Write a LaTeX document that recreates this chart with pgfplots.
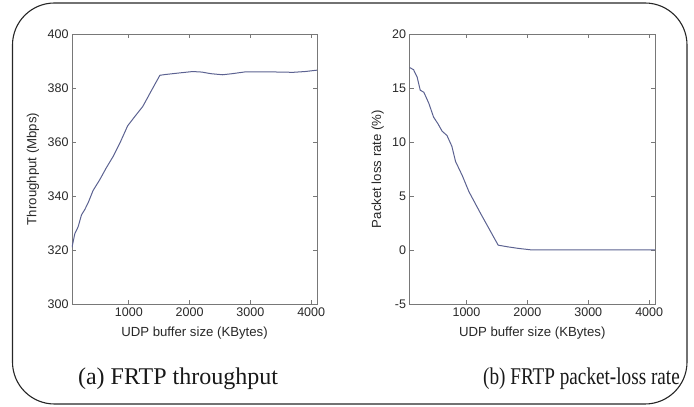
\documentclass[border=0pt]{standalone}
\usepackage{pgfplots}
\pgfplotsset{compat=1.18}
\usepackage{fontspec}
\setmainfont{Liberation Serif}
\newfontfamily\axfont{Liberation Sans}
\definecolor{curve}{RGB}{92,98,145}
\definecolor{axgray}{RGB}{120,120,120}
\definecolor{txt}{RGB}{40,40,40}

\pgfplotstableread{
x y
64 321
110 326
165 328.6
220 333
275 335
330 337.5
410 342
520 346
630 350.5
740 354.6
850 359.5
980 366
1100 369.5
1230 373.2
1370 379
1510 384.7
1600 385
1800 385.5
2050 386.1
2200 385.9
2350 385.3
2540 384.9
2700 385.3
2925 386
3200 386
3500 385.9
3700 385.8
3900 386.1
4096 386.6
}\thrutable

\pgfplotstableread{
x y
64 16.9
130 16.7
190 16.0
240 14.8
300 14.6
380 13.6
460 12.3
530 11.7
600 11.0
680 10.6
760 9.6
820 8.2
930 6.9
1040 5.4
1230 3.4
1520 0.45
1670 0.3
1850 0.15
2050 0.02
2500 0
4096 0
}\losstable

\pgfplotsset{
  frtp/.style={
    scale only axis,
    width=245pt, height=270pt,
    anchor=south west,
    xmin=64, xmax=4096,
    xtick={1000,2000,3000,4000},
    tick align=inside,
    xtick pos=both, ytick pos=both,
    major tick length=4pt,
    axis line style={axgray, line width=0.9pt},
    every tick/.style={axgray, line width=0.8pt},
    minor tick num=0,
    scaled ticks=false,
    /pgf/number format/assume math mode=true,
    /pgf/number format/1000 sep={},
    tick label style={font=\axfont\fontsize{12.5}{14}\selectfont, text=txt},
    label style={font=\axfont\fontsize{13.2}{15}\selectfont, text=txt},
    xlabel={UDP buffer size (KBytes)},
    xlabel style={at={(axis description cs:0.5,-0.107)}, anchor=center},
  },
}

\begin{document}
\begin{tikzpicture}[x=1pt,y=1pt]
\useasboundingbox (0,0) rectangle (694,407);
\draw[line width=1.1pt, black!85, rounded corners=42pt] (12.5,3) rectangle (687,404);

\begin{axis}[frtp, at={(72pt,103pt)},
    ymin=300, ymax=400, ytick={300,320,...,400},
    ylabel={Throughput (Mbps)},
    ylabel style={at={(axis description cs:-0.159,0.5)}, anchor=center}]
  \addplot[curve, line width=1pt, no marks] table[x=x, y=y] {\thrutable};
\end{axis}

\begin{axis}[frtp, at={(409.5pt,103pt)}, width=245.5pt,
    ymin=-5, ymax=20, ytick={-5,0,...,20},
    ylabel={Packet loss rate (\%)},
    ylabel style={at={(axis description cs:-0.13,0.5)}, anchor=center}]
  \addplot[curve, line width=1pt, no marks] table[x=x, y=y] {\losstable};
\end{axis}

\node[anchor=base, font=\fontsize{24}{28}\selectfont, text=black!90] at (178,22) {(a) FRTP throughput};
\node[anchor=base, font=\fontsize{24}{28}\selectfont, text=black!90] at (581.5,22) {\scalebox{0.8}[1]{(b) FRTP packet-loss rate}};
\end{tikzpicture}
\end{document}
